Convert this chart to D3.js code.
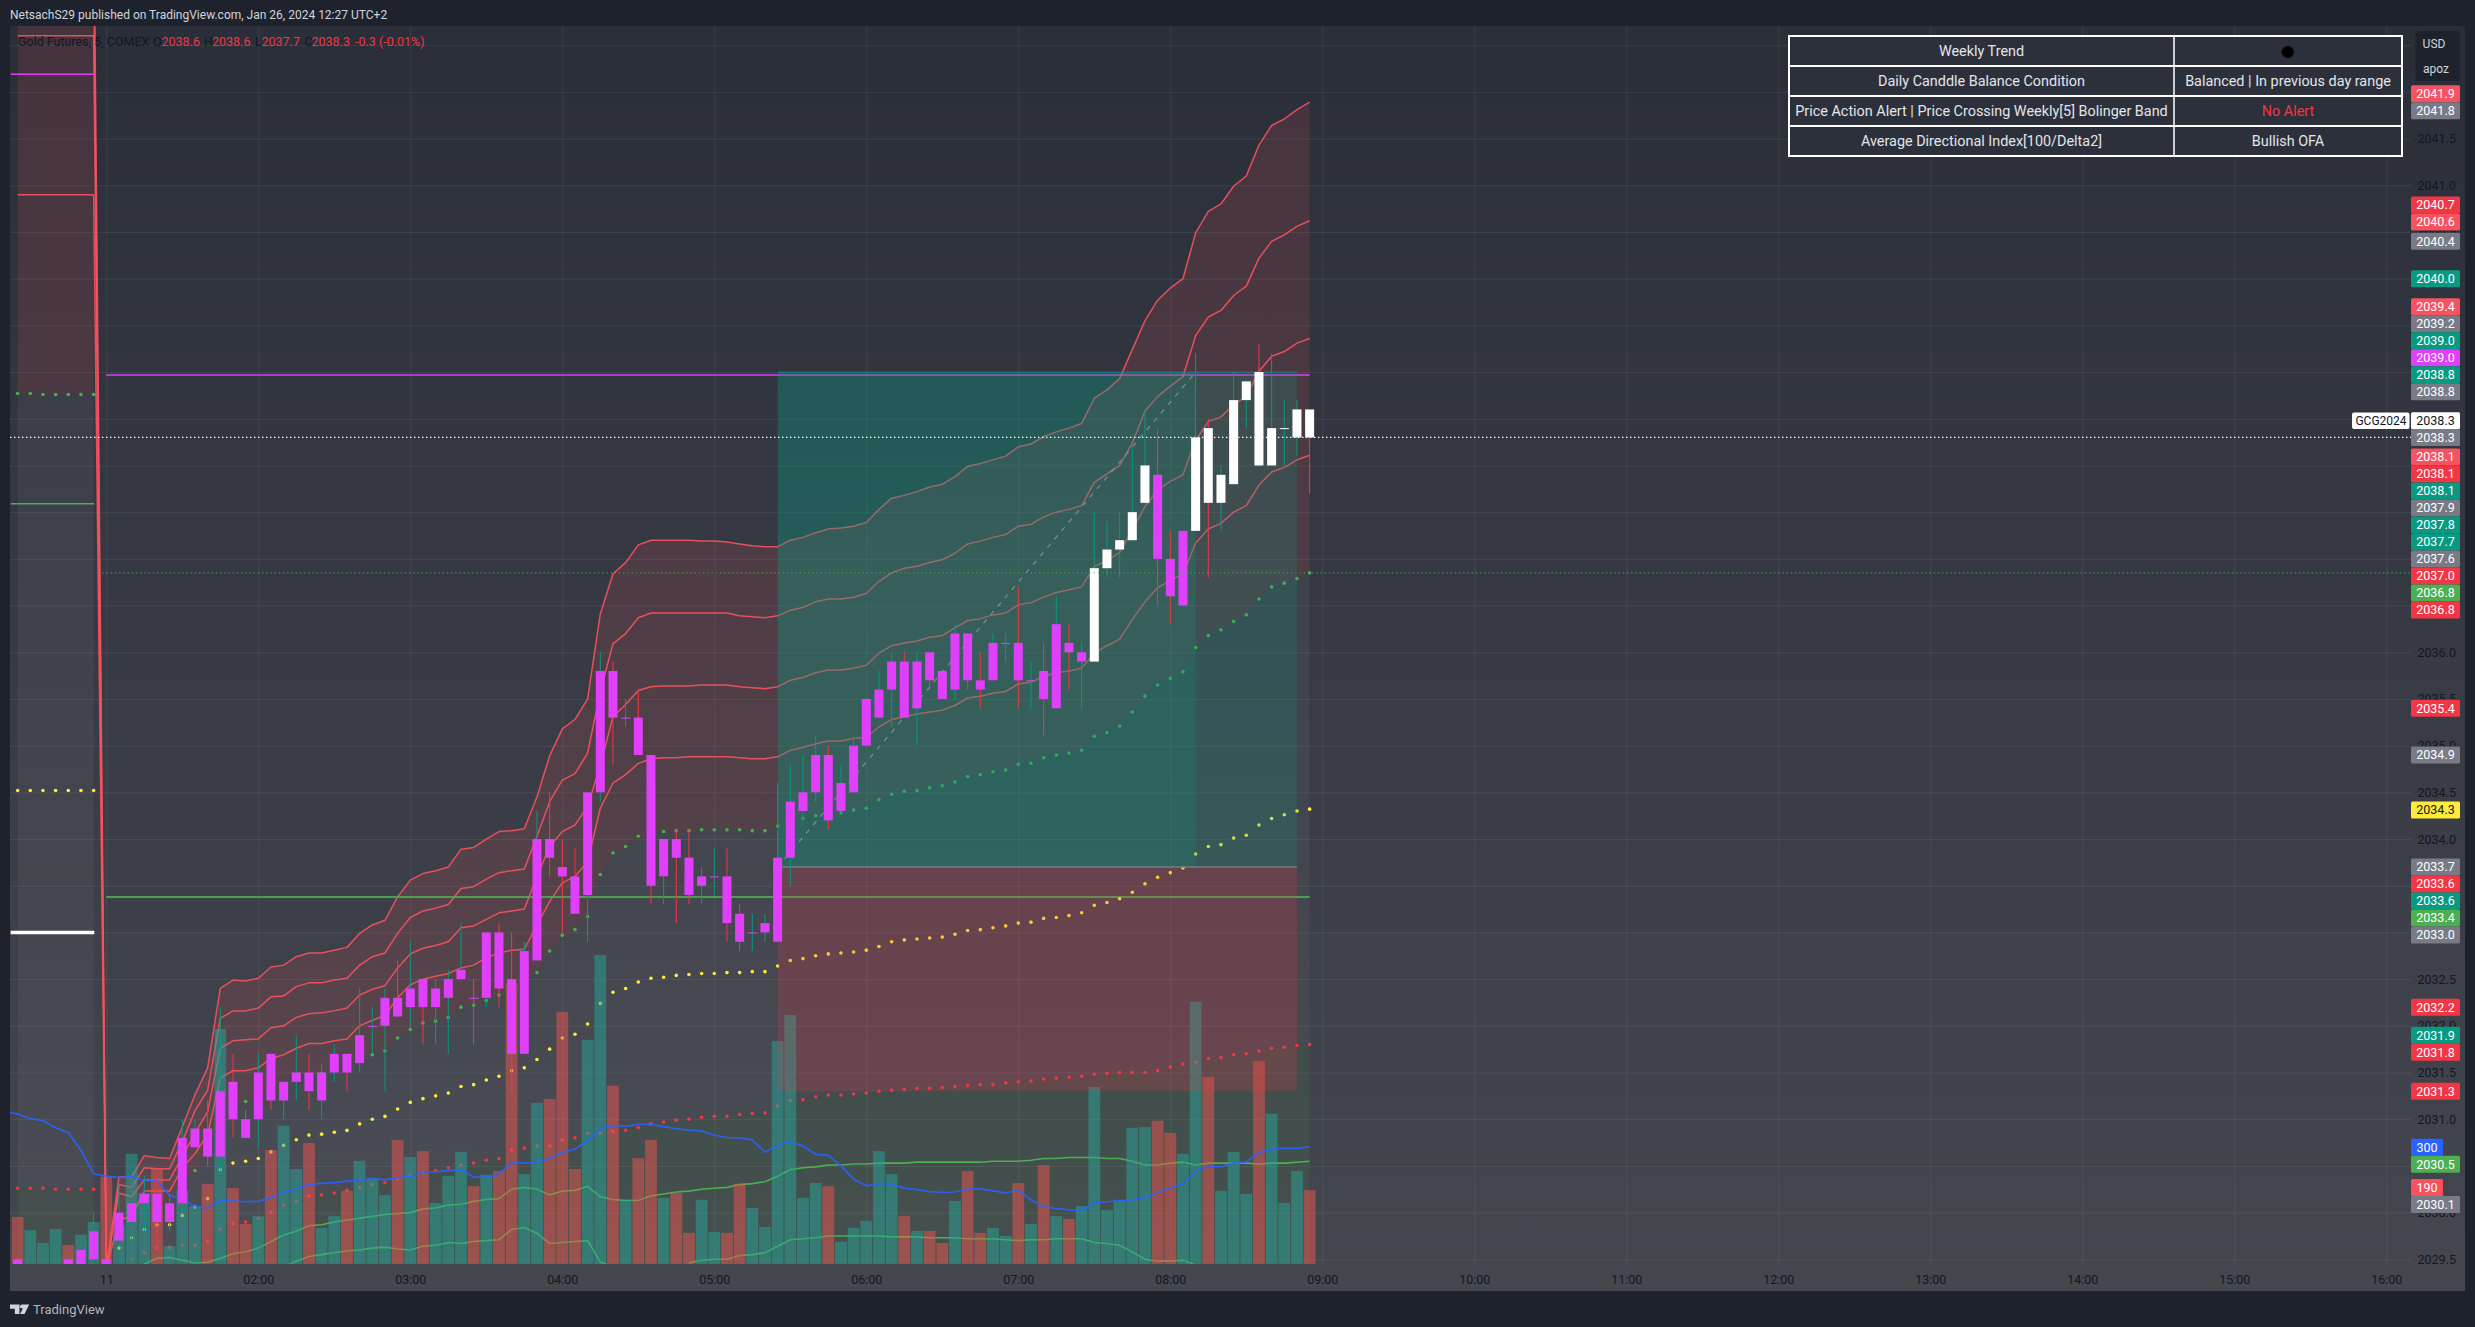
<!DOCTYPE html>
<html><head><meta charset="utf-8">
<script src="https://cdn.jsdelivr.net/npm/d3@7/dist/d3.min.js"></script>
<style>html,body{margin:0;padding:0;background:#1e222d}svg{display:block}text{font-family:Roboto,"Open Sans",sans-serif}</style>
</head><body><svg id="c" width="2475" height="1327"></svg>
<script>
// ---------- DATA (one entry per 5-minute bar, bar -7 .. bar 95; bar 0 is 01:00 on the 11th) ----------
const firstBar = -7;
const bodyTop = [2029.5,2029.2,2029.2,2029.4,2029.5,2029.6,2029.8,2029.5,
2030.0,2030.1,2030.2,2030.2,2030.1,2030.8,2030.9,2030.9,2031.3,2031.4,
2031.0,2031.5,2031.7,2031.4,2031.5,2031.5,2031.5,2031.7,2031.7,2031.9,
2032.0,2032.3,2032.3,2032.4,2032.5,2032.4,2032.5,2032.6,2032.3,2033.0,
2033.0,2032.5,2032.8,2034.0,2034.0,2033.7,2033.6,2034.5,2035.8,2035.8,
2035.3,2035.3,2034.9,2034.0,2034.0,2033.8,2033.6,2033.6,2033.6,2033.2,
2033.0,2033.1,2033.8,2034.4,2034.5,2034.9,2034.9,2034.6,2035.0,2035.5,
2035.6,2035.9,2035.9,2035.9,2036.0,2035.8,2036.2,2036.2,2035.7,2036.1,
2036.1,2036.1,2035.7,2035.8,2036.3,2036.1,2036.0,2036.9,2037.1,2037.2,
2037.5,2038.0,2037.9,2037.0,2037.3,2038.3,2038.4,2037.9,2038.7,2038.9,
2039.0,2038.4,2038.4,2038.6,2038.6];
const bodyBottom = [2029.3,2029.0,2029.0,2029.3,2029.2,2029.3,2029.5,2029.3,
2029.7,2029.9,2030.1,2029.9,2029.9,2030.1,2030.7,2030.6,2030.6,2031.0,
2030.8,2031.0,2031.2,2031.2,2031.4,2031.3,2031.2,2031.5,2031.5,2031.6,
2032.0,2032.0,2032.1,2032.2,2032.2,2032.2,2032.3,2032.5,2032.3,2032.3,
2032.4,2031.7,2031.7,2032.7,2033.8,2033.6,2033.2,2033.4,2034.5,2035.3,
2035.3,2034.9,2033.5,2033.6,2033.8,2033.4,2033.5,2033.6,2033.1,2032.9,
2033.0,2033.0,2032.9,2033.8,2034.3,2034.5,2034.2,2034.3,2034.5,2035.0,
2035.3,2035.6,2035.3,2035.4,2035.7,2035.5,2035.6,2035.7,2035.6,2035.7,
2036.1,2035.7,2035.7,2035.5,2035.4,2036.0,2035.9,2035.9,2036.9,2037.1,
2037.2,2037.6,2037.0,2036.6,2036.5,2037.3,2037.6,2037.6,2037.8,2038.7,
2038.0,2038.0,2038.4,2038.3,2038.3];
const wickHigh = [2029.5,2029.2,2029.2,2029.6,2029.5,2029.6,2030.0,2029.5,
2030.3,2030.4,2030.4,2030.4,2030.2,2031.0,2031.0,2031.2,2032.2,2031.7,
2031.1,2031.7,2031.7,2031.4,2031.9,2031.7,2031.6,2031.8,2031.7,2032.4,
2032.2,2032.4,2032.7,2032.9,2032.5,2032.5,2032.6,2033.1,2032.5,2033.0,
2033.1,2033.0,2032.9,2034.3,2034.5,2034.0,2033.9,2034.5,2036.0,2035.9,
2035.5,2035.6,2034.9,2034.0,2034.1,2034.1,2033.7,2033.9,2033.9,2033.3,
2033.2,2033.2,2034.6,2034.8,2034.9,2035.1,2035.0,2034.8,2035.1,2035.5,
2035.8,2036.0,2036.0,2036.0,2036.0,2035.8,2036.3,2036.2,2036.0,2036.2,
2036.2,2036.7,2035.9,2036.1,2036.6,2036.3,2036.1,2037.5,2037.4,2037.5,
2038.2,2038.6,2038.4,2037.3,2037.3,2039.2,2038.5,2038.0,2039.0,2038.9,
2039.3,2039.2,2038.7,2038.7,2038.6];
const wickLow = [2029.3,2029.0,2029.0,2029.3,2029.2,2029.3,2029.5,2029.3,
2029.7,2029.4,2029.8,2029.6,2029.8,2030.0,2030.7,2030.5,2030.4,2030.8,
2030.8,2030.7,2031.1,2031.0,2031.2,2031.1,2031.0,2031.4,2031.3,2031.5,
2031.7,2031.3,2032.1,2032.0,2031.8,2031.8,2031.7,2032.5,2031.8,2032.2,
2032.2,2031.3,2031.7,2032.7,2033.6,2033.0,2033.2,2032.9,2034.4,2034.8,
2035.2,2034.9,2033.3,2033.3,2033.1,2033.3,2033.3,2033.4,2032.9,2032.8,
2032.8,2032.9,2032.9,2033.5,2034.2,2034.4,2034.1,2034.3,2034.5,2035.0,
2035.3,2035.2,2035.3,2035.0,2035.6,2035.5,2035.5,2035.6,2035.4,2035.7,
2035.9,2035.4,2035.4,2035.1,2035.4,2035.6,2035.4,2035.9,2036.8,2036.8,
2037.2,2037.6,2036.5,2036.3,2036.5,2037.3,2036.8,2037.3,2037.8,2038.4,
2038.0,2038.0,2038.0,2038.1,2037.7];
const bearishBars = [-7,-3,0,4,8,10,11,13,16,19,23,25,29,31,32,35,36,37,40,42,43,45,46,49,50,57,63,65,66,68,69,72,74,76,83,84,87,91,95];
const whiteBodyBars = [78,79,80,81,82,86,87,88,89,90,91,92,93,94,95];
const volumes = [121,87,54,90,49,75,108,224,
100,283,182,244,46,190,149,206,604,195,
103,123,293,355,244,311,93,123,188,265,
219,177,319,275,290,157,226,288,200,229,
239,722,231,414,424,648,244,576,794,458,
165,272,319,170,183,80,165,82,80,206,
144,95,573,640,170,208,200,57,93,111,
290,231,123,85,85,54,162,239,80,93,
72,208,103,254,123,116,149,455,139,165,
350,352,368,337,283,674,481,188,288,180,
522,386,157,239,190];
const volumeAverageAtPaneEdge = 390;
const volumeAverage = [385,374,368,350,338,291,232,226,
222,225,214,214,176,169,147,144,164,162,
160,161,171,185,194,204,207,209,213,215,
220,216,222,225,236,237,240,243,223,224,
231,261,259,261,271,287,295,317,348,356,
354,359,359,353,348,344,342,331,325,324,
319,287,305,315,303,282,279,252,218,201,
207,205,195,191,186,184,185,193,193,188,
183,189,165,147,143,139,137,158,160,163,
165,171,183,196,205,237,251,250,259,262,
287,296,298,297,301];
const bandA = [2044.2,2044.2,2044.2,2044.2,2044.2,2044.2,2044.2,2029.4,
2030.38,2030.38,2030.61,2030.59,2030.58,2030.92,2031.26,2031.55,2032.40,2032.49,
2032.48,2032.51,2032.63,2032.65,2032.74,2032.78,2032.78,2032.81,2032.84,2032.99,
2033.08,2033.13,2033.38,2033.56,2033.63,2033.66,2033.70,2033.89,2033.91,2034.00,
2034.08,2034.09,2034.11,2034.45,2034.89,2035.18,2035.28,2035.50,2036.41,2036.84,
2036.96,2037.15,2037.20,2037.20,2037.20,2037.20,2037.19,2037.19,2037.18,2037.16,
2037.14,2037.13,2037.13,2037.20,2037.23,2037.28,2037.32,2037.33,2037.35,2037.39,
2037.53,2037.65,2037.68,2037.72,2037.77,2037.80,2037.88,2037.99,2038.02,2038.06,
2038.10,2038.20,2038.23,2038.31,2038.36,2038.40,2038.45,2038.72,2038.81,2038.93,
2039.24,2039.55,2039.77,2039.90,2040.00,2040.49,2040.72,2040.80,2040.99,2041.10,
2041.43,2041.64,2041.71,2041.81,2041.89];
const bandB = [2043.4,2043.4,2043.4,2043.4,2043.4,2043.4,2043.4,2029.4,
2030.30,2030.27,2030.48,2030.47,2030.47,2030.76,2031.09,2031.31,2032.08,2032.16,
2032.16,2032.19,2032.31,2032.32,2032.42,2032.46,2032.46,2032.49,2032.51,2032.65,
2032.74,2032.78,2032.99,2033.16,2033.23,2033.26,2033.30,2033.47,2033.49,2033.57,
2033.64,2033.66,2033.68,2034.03,2034.40,2034.63,2034.70,2034.92,2035.58,2036.09,
2036.20,2036.37,2036.42,2036.42,2036.42,2036.42,2036.42,2036.42,2036.42,2036.39,
2036.38,2036.37,2036.39,2036.45,2036.48,2036.54,2036.57,2036.57,2036.59,2036.63,
2036.76,2036.85,2036.90,2036.92,2036.96,2036.99,2037.06,2037.16,2037.19,2037.23,
2037.26,2037.35,2037.37,2037.45,2037.50,2037.53,2037.57,2037.82,2037.91,2038.00,
2038.24,2038.58,2038.74,2038.85,2038.95,2039.39,2039.59,2039.66,2039.82,2039.92,
2040.22,2040.40,2040.47,2040.56,2040.62];
const bandC = [2042.6,2042.6,2042.6,2042.6,2042.6,2042.6,2042.6,2029.4,
2030.21,2030.17,2030.35,2030.35,2030.35,2030.60,2030.85,2031.08,2031.76,2031.84,
2031.85,2031.86,2031.98,2032.00,2032.09,2032.13,2032.14,2032.16,2032.19,2032.33,
2032.39,2032.43,2032.62,2032.77,2032.83,2032.86,2032.90,2033.05,2033.07,2033.14,
2033.21,2033.23,2033.25,2033.60,2033.92,2034.08,2034.15,2034.35,2034.79,2035.31,
2035.44,2035.59,2035.63,2035.64,2035.64,2035.64,2035.65,2035.65,2035.65,2035.63,
2035.62,2035.61,2035.63,2035.70,2035.73,2035.78,2035.81,2035.81,2035.83,2035.86,
2035.99,2036.07,2036.10,2036.12,2036.16,2036.18,2036.26,2036.34,2036.36,2036.40,
2036.42,2036.51,2036.53,2036.59,2036.64,2036.67,2036.70,2036.92,2036.98,2037.07,
2037.31,2037.56,2037.74,2037.83,2037.90,2038.27,2038.47,2038.52,2038.65,2038.74,
2039.01,2039.17,2039.22,2039.31,2039.36];
const bandD = [2040.9,2040.9,2040.9,2040.9,2040.9,2040.9,2040.9,2029.4,
2029.92,2029.96,2030.23,2030.23,2030.23,2030.48,2030.63,2030.84,2031.44,2031.52,
2031.52,2031.55,2031.65,2031.69,2031.76,2031.81,2031.81,2031.84,2031.86,2032.00,
2032.06,2032.11,2032.30,2032.44,2032.50,2032.53,2032.56,2032.62,2032.65,2032.73,
2032.78,2032.81,2032.82,2033.08,2033.33,2033.53,2033.60,2033.76,2034.33,2034.60,
2034.69,2034.81,2034.86,2034.87,2034.87,2034.88,2034.88,2034.88,2034.88,2034.87,
2034.86,2034.86,2034.88,2034.95,2034.98,2035.02,2035.05,2035.05,2035.08,2035.09,
2035.20,2035.28,2035.31,2035.34,2035.36,2035.38,2035.43,2035.51,2035.53,2035.56,
2035.58,2035.66,2035.68,2035.74,2035.78,2035.80,2035.83,2035.99,2036.07,2036.14,
2036.35,2036.54,2036.69,2036.77,2036.84,2037.17,2037.32,2037.38,2037.50,2037.57,
2037.79,2037.93,2037.98,2038.06,2038.11];
const greenDots = [2038.77,2038.77,2038.76,2038.76,2038.76,2038.76,2038.76,null,
2029.85,2029.99,2030.15,2030.17,2030.08,2030.31,2030.45,2030.64,2030.99,2031.14,
2031.19,2031.24,2031.31,2031.37,2031.46,2031.47,2031.49,2031.55,2031.57,2031.64,
2031.69,2031.73,2031.87,2031.96,2032.03,2032.05,2032.09,2032.20,2032.22,2032.27,
2032.33,2032.35,2032.46,2032.57,2032.80,2032.97,2033.03,2033.17,2033.62,2033.85,
2033.92,2034.03,2034.06,2034.08,2034.09,2034.09,2034.10,2034.10,2034.10,2034.10,
2034.09,2034.09,2034.14,2034.17,2034.22,2034.25,2034.28,2034.28,2034.31,2034.33,
2034.42,2034.48,2034.51,2034.52,2034.55,2034.57,2034.61,2034.67,2034.69,2034.72,
2034.74,2034.80,2034.81,2034.87,2034.90,2034.92,2034.95,2035.10,2035.14,2035.21,
2035.36,2035.53,2035.65,2035.72,2035.79,2036.05,2036.18,2036.24,2036.33,2036.40,
2036.57,2036.70,2036.74,2036.79,2036.85];
const yellowDots = [2034.52,2034.52,2034.52,2034.52,2034.52,2034.52,2034.52,null,
2029.62,2029.73,2029.82,2029.87,2029.87,2029.97,2030.06,2030.15,2030.46,2030.53,
2030.55,2030.58,2030.65,2030.72,2030.78,2030.83,2030.84,2030.86,2030.88,2030.95,
2031.00,2031.03,2031.11,2031.18,2031.22,2031.25,2031.28,2031.35,2031.37,2031.42,
2031.46,2031.52,2031.55,2031.64,2031.75,2031.87,2031.91,2032.02,2032.24,2032.36,
2032.40,2032.47,2032.51,2032.52,2032.54,2032.55,2032.56,2032.56,2032.57,2032.57,
2032.58,2032.58,2032.64,2032.70,2032.72,2032.75,2032.77,2032.78,2032.79,2032.81,
2032.85,2032.90,2032.92,2032.93,2032.94,2032.95,2032.98,2033.02,2033.03,2033.05,
2033.07,2033.10,2033.11,2033.15,2033.16,2033.18,2033.21,2033.29,2033.32,2033.36,
2033.43,2033.52,2033.59,2033.64,2033.69,2033.84,2033.92,2033.94,2034.01,2034.04,
2034.15,2034.22,2034.26,2034.30,2034.32];
const redDots = [2030.26,2030.26,2030.26,2030.25,2030.25,2030.25,2030.25,null,
2029.42,2029.50,2029.57,2029.62,2029.63,2029.65,2029.65,2029.69,2029.82,2029.88,
2029.90,2029.94,2030.00,2030.08,2030.12,2030.18,2030.19,2030.21,2030.24,2030.27,
2030.30,2030.32,2030.36,2030.40,2030.43,2030.45,2030.48,2030.51,2030.53,2030.56,
2030.58,2030.67,2030.69,2030.71,2030.71,2030.78,2030.80,2030.85,2030.85,2030.87,
2030.88,2030.91,2030.95,2030.97,2030.99,2031.00,2031.02,2031.03,2031.03,2031.05,
2031.06,2031.07,2031.14,2031.20,2031.21,2031.24,2031.26,2031.26,2031.27,2031.28,
2031.30,2031.31,2031.32,2031.33,2031.33,2031.34,2031.35,2031.36,2031.37,2031.37,
2031.39,2031.40,2031.41,2031.43,2031.44,2031.45,2031.46,2031.48,2031.49,2031.50,
2031.50,2031.50,2031.52,2031.56,2031.59,2031.61,2031.65,2031.66,2031.69,2031.70,
2031.73,2031.76,2031.77,2031.79,2031.80];
const upperGreenStartBar = 3;
const upperGreenLine = [2029.45,2029.51,2029.52,2029.49,2029.46,2029.47,2029.51,2029.56,
2029.58,2029.62,2029.69,2029.76,2029.80,2029.86,2029.87,2029.90,2029.92,2029.94,
2029.96,2029.98,2029.99,2030.00,2030.04,2030.05,2030.08,2030.09,2030.12,2030.14,2030.15,
2030.25,2030.27,2030.25,2030.19,2030.23,2030.24,2030.28,2030.17,2030.14,
2030.13,2030.13,2030.18,2030.20,2030.22,2030.23,2030.25,2030.26,2030.27,2030.30,2030.31,
2030.33,2030.39,2030.46,2030.48,2030.49,2030.51,2030.51,2030.52,2030.52,2030.53,2030.53,
2030.53,2030.54,2030.54,2030.54,2030.54,2030.54,
2030.54,2030.55,2030.55,2030.55,2030.56,2030.58,2030.58,2030.59,2030.59,2030.59,2030.58,2030.58,
2030.55,2030.51,2030.51,2030.53,2030.54,2030.51,2030.53,2030.53,2030.53,2030.53,2030.52,2030.53,2030.53,2030.54,2030.55];
const lowerGreenStartBar = 14;
const lowerGreenLine = [2029.42,2029.48,2029.53,2029.55,2029.57,2029.59,2029.60,2029.62,2029.63,2029.61,2029.60,2029.64,2029.65,2029.68,2029.67,2029.69,2029.70,2029.71,
2029.82,2029.84,2029.78,2029.67,2029.68,2029.69,2029.70,2029.47,2029.42,
null,null,null,null,null,
2029.46,2029.49,2029.50,2029.50,2029.54,2029.55,2029.57,2029.64,2029.71,2029.72,2029.73,2029.75,2029.75,2029.75,2029.75,2029.75,2029.74,2029.74,2029.74,2029.73,2029.73,2029.73,2029.72,
2029.72,2029.72,2029.71,2029.70,2029.71,2029.71,2029.72,2029.72,2029.72,2029.68,2029.67,2029.65,2029.58,2029.50,2029.48,2029.48,2029.49,2029.44];
const priorDayLevels = [2042.19, 2037.59, 2033.0];
const priorDayColors = ["#e040fb", "#4caf50", "#ffffff"];
const currentHigh = 2038.97, currentLow = 2033.38, lastClose = 2038.3, greenDotLevel = 2036.85;
const positionBars = [53, 86, 94], positionEntry = 2033.7, positionTarget = 2039.0, positionStop = 2031.3;
const priceTicks = d3.range(2029.5, 2043, 0.5);
const timeTickBars = [0,12,24,36,48,60,72,84,96,108,120,132,144,156,168,180];
const timeTickLabels = ["11","02:00","03:00","04:00","05:00","06:00","07:00","08:00","09:00","10:00","11:00","12:00","13:00","14:00","15:00","16:00"];
// price-axis tags: each stack starts at an anchor price and continues downwards
const tagStackAnchors = [2041.98,2040.79,2040.4,2040.0,2039.7,2038.48,2038.3,2038.09,2035.4,2034.9,2034.31,2033.7,2032.2,2031.9,2031.3,2030.7,2030.27];
const tagStackTexts = [["2041.9","2041.8"],["2040.7","2040.6"],["2040.4"],["2040.0"],
 ["2039.4","2039.2","2039.0","2039.0","2038.8","2038.8"],["2038.3"],["2038.3"],
 ["2038.1","2038.1","2038.1","2037.9","2037.8","2037.7","2037.6","2037.0","2036.8","2036.8"],
 ["2035.4"],["2034.9"],["2034.3"],["2033.7","2033.6","2033.6","2033.4","2033.0"],["2032.2"],["2031.9","2031.8"],["2031.3"],["300","2030.5"],["190","2030.1"]];
const tagStackKinds = [["rose","gray"],["red","rose"],["gray"],["teal"],
 ["rose","gray","teal","magenta","teal","gray"],["white"],["gray"],
 ["rose","red","teal","gray","teal","teal","gray","red","green","red"],
 ["red"],["gray"],["yellow"],["gray","red","teal","green","gray"],["red"],["teal","red"],["red"],["blue","green"],["rose","gray"]];
const tableLeft = ["Weekly Trend","Daily Canddle Balance Condition","Price Action Alert | Price Crossing Weekly[5] Bolinger Band","Average Directional Index[100/Delta2]"];
const tableRight = ["●","Balanced | In previous day range","No Alert","Bullish OFA"];
const legendParts = [["Gold Futures, 5, COMEX",18,"#131722"],["O",153,"#131722"],["2038.6",161.5,"#f23645"],["H",204,"#131722"],["2038.6",212,"#f23645"],["L",255,"#131722"],["2037.7",261.5,"#f23645"],["C",304.5,"#131722"],["2038.3",311.5,"#f23645"],["-0.3 (-0.01%)",355,"#f23645"]];

// ---------- SCALES ----------
const svg = d3.select("#c");
const paneLeft=10, paneRight=2465, paneTop=26, paneBottom=1291, plotRight=2411, plotBottom=1264;
const x = d3.scaleLinear().domain([0,180]).range([106.3,2386.3]);
const y = d3.scaleLinear().domain([2041,2029.5]).range([185.3,1259.3]);
const yVol = d3.scaleLinear().domain([0,794]).range([plotBottom,955]);
const bars = d3.range(firstBar,96);
const at = (arr,b)=>arr[b-firstBar];
const bearish = new Set(bearishBars), white = new Set(whiteBodyBars);

// ---------- BACKGROUND ----------
const defs = svg.append("defs");
const g0 = defs.append("linearGradient").attr("id","bg").attr("x1",0).attr("y1",0).attr("x2",0).attr("y2",1);
g0.append("stop").attr("offset",0).attr("stop-color","#2a2e39");
g0.append("stop").attr("offset",1).attr("stop-color","#45474f");
defs.append("clipPath").attr("id","plot").append("rect").attr("x",paneLeft).attr("y",paneTop).attr("width",plotRight-paneLeft).attr("height",plotBottom-paneTop);
svg.append("rect").attr("width",2475).attr("height",1327).attr("fill","#1e222d");
svg.append("rect").attr("x",paneLeft).attr("y",paneTop).attr("width",paneRight-paneLeft).attr("height",paneBottom-paneTop).attr("fill","url(#bg)");
svg.append("text").attr("x",10).attr("y",19).attr("font-size",12).attr("fill","#d1d4dc").text("NetsachS29 published on TradingView.com, Jan 26, 2024 12:27 UTC+2");

// ---------- GRID via axes ----------
const grid = svg.append("g");
const gx = grid.append("g").attr("transform",`translate(0,${plotBottom})`)
  .call(d3.axisBottom(x).tickValues(timeTickBars).tickSize(-(plotBottom-paneTop)).tickFormat(""));
const gy = grid.append("g").attr("transform",`translate(${plotRight},0)`)
  .call(d3.axisLeft(y).tickValues(priceTicks).tickSize(plotRight-paneLeft).tickFormat(""));
grid.selectAll(".domain").remove();
grid.selectAll("line").attr("stroke","rgba(255,255,255,0.075)").attr("stroke-width",1);

// ---------- PLOT ----------
const plot = svg.append("g").attr("clip-path","url(#plot)");
const ok = b=>at(greenDots,b)!=null;
plot.append("path").datum(bars).attr("fill","rgba(247,82,95,0.13)")
  .attr("d",d3.area().defined(ok).x(x).y0(b=>y(at(greenDots,b))).y1(b=>y(at(bandA,b))));
plot.append("path").datum(bars).attr("fill","rgba(120,123,134,0.13)")
  .attr("d",d3.area().defined(ok).x(x).y0(b=>y(at(redDots,b))).y1(b=>y(at(greenDots,b))));
plot.append("path").datum(bars).attr("fill","rgba(76,175,80,0.1)")
  .attr("d",d3.area().defined(ok).x(x).y0(plotBottom).y1(b=>y(at(redDots,b))));
[bandA,bandB,bandC,bandD].forEach(arr=>{
  plot.append("path").datum(bars).attr("fill","none").attr("stroke","#f7525f").attr("stroke-width",1.5).attr("stroke-opacity",.9)
    .attr("stroke-linejoin","round")
    .attr("d",d3.line().x(x).y(b=>y(at(arr,b))));
});
// prior-session and current levels
priorDayLevels.forEach((p,i)=>{
  plot.append("line").attr("x1",x(-7.55)).attr("x2",x(-0.95)).attr("y1",y(p)).attr("y2",y(p))
    .attr("stroke",priorDayColors[i]).attr("stroke-width",i==2?3.5:1.5);
});
[[currentHigh,"#e040fb",.72],[currentLow,"#4caf50",.85]].forEach(([p,c,o])=>{
  plot.append("line").attr("x1",x(0)).attr("x2",x(95)).attr("y1",y(p)).attr("y2",y(p)).attr("stroke",c).attr("stroke-opacity",o).attr("stroke-width",2);
});
// lines beneath volume
[[upperGreenStartBar,upperGreenLine],[lowerGreenStartBar,lowerGreenLine]].forEach(([s,arr])=>{
  plot.append("path").datum(arr).attr("fill","none").attr("stroke","#4caf50").attr("stroke-width",1.6)
    .attr("d",d3.line().defined(d=>d!=null).x((d,i)=>x(s+i)).y(d=>y(d)));
});
// dots
[[greenDots,"#4caf50"],[redDots,"#f23645"],[yellowDots,"#ffeb3b"]].forEach(([arr,c])=>{
  plot.append("g").selectAll("circle").data(bars.filter(b=>at(arr,b)!=null)).join("circle")
    .attr("cx",x).attr("cy",b=>y(at(arr,b))).attr("r",1.8).attr("fill",c);
});
// volume
plot.append("g").selectAll("rect").data(bars).join("rect")
  .attr("x",b=>x(b)-5.9).attr("width",11.8).attr("y",b=>yVol(at(volumes,b))).attr("height",b=>plotBottom-yVol(at(volumes,b)))
  .attr("fill",b=>bearish.has(b)?"rgba(239,83,80,0.5)":"rgba(38,166,154,0.5)");
plot.append("path").datum([[x(-7.6),volumeAverageAtPaneEdge]].concat(bars.map(b=>[x(b),at(volumeAverage,b)]))).attr("fill","none").attr("stroke","#2962ff").attr("stroke-width",1.7).attr("stroke-opacity",.9)
  .attr("d",d3.line().x(d=>d[0]).y(d=>yVol(d[1])));
// position tool
const [pA,pB,pC]=positionBars;
plot.append("rect").attr("x",x(pA)).attr("width",x(pC)-x(pA)).attr("y",y(positionTarget)).attr("height",y(positionEntry)-y(positionTarget)).attr("fill","rgba(8,153,129,0.2)");
plot.append("rect").attr("x",x(pA)).attr("width",x(pB)-x(pA)).attr("y",y(positionTarget)).attr("height",y(positionEntry)-y(positionTarget)).attr("fill","rgba(8,153,129,0.2)");
plot.append("rect").attr("x",x(pA)).attr("width",x(pC)-x(pA)).attr("y",y(positionEntry)).attr("height",y(positionStop)-y(positionEntry)).attr("fill","rgba(242,54,69,0.2)");
plot.append("line").attr("x1",x(pA)).attr("x2",x(pC)).attr("y1",y(positionTarget)).attr("y2",y(positionTarget)).attr("stroke","#089981").attr("stroke-width",1).attr("stroke-opacity",.7);
plot.append("line").attr("x1",x(pA)).attr("x2",x(pC)).attr("y1",y(positionEntry)).attr("y2",y(positionEntry)).attr("stroke","#787b86").attr("stroke-width",1.5);
plot.append("line").attr("x1",x(pA)).attr("x2",x(pB)).attr("y1",y(positionEntry)).attr("y2",y(positionTarget)).attr("stroke","#9598a1").attr("stroke-width",1.3).attr("stroke-dasharray","5 6").attr("stroke-opacity",.75);
// price lines
svg.append("line").attr("x1",x(-0.3)).attr("x2",plotRight).attr("y1",y(greenDotLevel)).attr("y2",y(greenDotLevel)).attr("stroke","#4caf50").attr("stroke-width",1).attr("stroke-dasharray","1.2 3");
svg.append("line").attr("x1",paneLeft).attr("x2",plotRight).attr("y1",y(lastClose)).attr("y2",y(lastClose)).attr("stroke","#fff").attr("stroke-width",1.3).attr("stroke-dasharray","1.4 2.6");
// candles
const candles = plot.append("g").selectAll("g").data(bars).join("g");
candles.append("line").attr("x1",x).attr("x2",x).attr("y1",b=>y(at(wickHigh,b))).attr("y2",b=>y(at(wickLow,b)))
  .attr("stroke",b=>bearish.has(b)?"#f23645":"#089981").attr("stroke-width",1);
candles.append("rect").attr("x",b=>x(b)-4.5).attr("width",9).attr("y",b=>y(at(bodyTop,b)))
  .attr("height",b=>Math.max(1,y(at(bodyBottom,b))-y(at(bodyTop,b))))
  .attr("fill",b=>white.has(b)?"#ffffff":"#e040fb");

// ---------- AXIS TEXT via axes ----------
const axisText = svg.append("g").attr("font-size",12);
const ax = axisText.append("g").attr("transform",`translate(0,${plotBottom+8})`)
  .call(d3.axisBottom(x).tickValues(timeTickBars).tickSize(0).tickFormat((d,i)=>timeTickLabels[i]));
const ay = axisText.append("g").attr("transform",`translate(2436.7,0)`)
  .call(d3.axisRight(y).tickValues(priceTicks).tickSize(0).tickPadding(0).tickFormat(d3.format(".1f")));
ax.selectAll("text").attr("font-family","Roboto").attr("font-size",12.5).attr("fill","#131722");
ay.selectAll("text").attr("font-family","Roboto").attr("font-size",12.5).attr("fill","#131722").attr("text-anchor","middle");
axisText.selectAll(".domain").remove();

// ---------- PRICE TAGS ----------
const tagColors = {rose:"#f7525f",red:"#f23645",gray:"#787b86",teal:"#089981",magenta:"#e040fb",green:"#4caf50",yellow:"#ffeb3b",blue:"#2962ff",white:"#ffffff"};
const tags = svg.append("g");
tagStackAnchors.forEach((anchor,si)=>{
  tagStackTexts[si].forEach((t,j)=>{
    const cy=y(anchor)+17*j, k=tagStackKinds[si][j], w=t.length<4?32:49;
    tags.append("rect").attr("x",2411).attr("y",cy-8.5).attr("width",w).attr("height",17).attr("rx",1.5).attr("fill",tagColors[k]);
    tags.append("text").attr("x",2411+w/2).attr("y",cy+4.4).attr("text-anchor","middle").attr("font-size",12.5)
      .attr("fill",(k=="yellow"||k=="white")?"#131722":"#ffffff").text(t);
  });
});
svg.append("rect").attr("x",2352).attr("y",412.5).attr("width",57.5).attr("height",16.5).attr("rx",2).attr("fill","#fff");
svg.append("text").attr("x",2381).attr("y",425).attr("text-anchor","middle").attr("font-size",12).attr("fill","#131722").text("GCG2024");
svg.append("rect").attr("x",2415).attr("y",30.5).attr("width",45.5).attr("height",51).attr("rx",4).attr("fill","#1e222d").attr("stroke","#2a2e39");
svg.append("text").attr("x",2434).attr("y",47.5).attr("text-anchor","middle").attr("font-size",12).attr("fill","#d1d4dc").text("USD");
svg.append("text").attr("x",2436).attr("y",72.5).attr("text-anchor","middle").attr("font-size",12).attr("fill","#d1d4dc").text("apoz");

// ---------- LEGEND ----------
legendParts.forEach(([t,px,c])=>svg.append("text").attr("x",px).attr("y",46).attr("font-size",12.5).attr("fill",c).text(t));

// ---------- TABLE ----------
const tbl = svg.append("g");
const tL=1789, tM=2174, tR=2402, tT=36, rowH=30;
tbl.append("rect").attr("x",tL).attr("y",tT).attr("width",tR-tL).attr("height",rowH*4).attr("fill","#2c303b");
tableLeft.forEach((t,i)=>{
  tbl.append("text").attr("x",(tL+tM)/2).attr("y",tT+rowH*i+19.5).attr("text-anchor","middle").attr("font-size",14.4).attr("fill","#e3e5ea").text(t);
  const r=tableRight[i];
  tbl.append("text").attr("x",(tM+tR)/2).attr("y",tT+rowH*i+(i==0?24:19.5)).attr("text-anchor","middle")
    .attr("font-size",i==0?28:14.4).attr("fill",i==0?"#000":(i==2?"#f23645":"#e3e5ea")).text(r);
});
for(let i=0;i<=4;i++) tbl.append("line").attr("x1",tL-1).attr("x2",tR+1).attr("y1",tT+rowH*i).attr("y2",tT+rowH*i).attr("stroke","#fff").attr("stroke-width",2);
[tL,tM,tR].forEach(v=>tbl.append("line").attr("x1",v).attr("x2",v).attr("y1",tT).attr("y2",tT+rowH*4).attr("stroke","#fff").attr("stroke-width",v==tM?1.5:2));

// ---------- FOOTER LOGO ----------
svg.append("path").attr("fill","#d1d4dc").attr("d","M10 1304.5h9.5v9.5h-4.7v-5.2h-4.8zM21.2 1304.5h8l-4.7 9.5h-4.4l2.4-5z");
svg.append("circle").attr("cx",21.4).attr("cy",1306.6).attr("r",1.6).attr("fill","#d1d4dc");
svg.append("text").attr("x",33).attr("y",1314).attr("font-size",13).attr("fill","#b2b5be").text("TradingView");
</script></body></html>
